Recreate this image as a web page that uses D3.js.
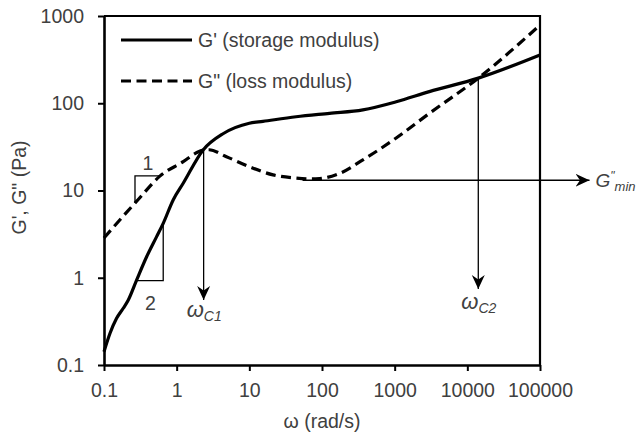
<!DOCTYPE html>
<html>
<head>
<meta charset="utf-8">
<script src="https://cdn.jsdelivr.net/npm/d3@7"></script>
<style>
  html, body { margin: 0; padding: 0; background: #fff; }
  svg { display: block; font-family: "Liberation Sans", Arial, sans-serif; }
</style>
</head>
<body>
<svg id="chart" width="640" height="436"></svg>
<script>
// Frequency sweep data (log-log)
const omegaStorage = [0.1, 0.121, 0.149, 0.184, 0.216, 0.281, 0.386, 0.53, 0.653, 0.895, 1.23, 2.3, 4.4, 10, 15.4, 44, 127, 365, 1050, 3000, 14150, 100000];
const storageModulus = [0.142, 0.231, 0.343, 0.447, 0.556, 0.94, 1.74, 2.96, 4.2, 7.8, 12.1, 29, 45, 59, 62, 70, 76.7, 84, 104, 136, 194, 357];

const omegaLoss = [0.1, 0.2, 0.3, 0.587, 1.23, 1.87, 2.3, 2.8, 4.84, 10.1, 21.2, 44, 70, 92.7, 175, 365, 1050, 3006, 14150, 100000];
const lossModulus = [2.86, 5.5, 8.0, 14.6, 21.4, 27.1, 29, 29.3, 24.4, 18.7, 15.1, 13.9, 13.6, 13.7, 15.7, 22.4, 40, 76.7, 194, 788];

const xTickValues = [0.1, 1, 10, 100, 1000, 10000, 100000];
const xTickLabels = ["0.1", "1", "10", "100", "1000", "10000", "100000"];
const yTickValues = [0.1, 1, 10, 100, 1000];
const yTickLabels = ["0.1", "1", "10", "100", "1000"];

const seriesNames = ["G' (storage modulus)", "G\" (loss modulus)"];

// Crossover frequencies and minimum of G''
const crossover1 = { omega: 2.35, g: 29, tipG: 0.556 };
const crossover2 = { omega: 14150, g: 194, tipG: 0.743 };
const lossMin = { omega: 54, g: 13.1, endOmega: 480000 };

// Slope guides: 1 (G'') and 2 (G')
const slopeOne = { omegaA: 0.267, omegaB: 0.587, gTop: 14.7, gBottom: 7.2 };
const slopeTwo = { omegaA: 0.281, omegaB: 0.653, gBottom: 0.925, gTop: 4.2 };

const W = 640, H = 436;
const margin = { top: 16, right: 100, bottom: 71, left: 104 };
const svg = d3.select("#chart");

const x = d3.scaleLog().domain([0.1, 100000]).range([margin.left, W - margin.right]);
const y = d3.scaleLog().domain([0.1, 1000]).range([H - margin.bottom, margin.top]);

const textColor = "#404040";
const fontSize = 19.5;

// Arrowhead
const defs = svg.append("defs");
defs.append("marker")
  .attr("id", "arrow")
  .attr("markerUnits", "userSpaceOnUse")
  .attr("viewBox", "-14 -7 15 14")
  .attr("refX", 0).attr("refY", 0)
  .attr("markerWidth", 15).attr("markerHeight", 14)
  .attr("orient", "auto")
  .append("path")
  .attr("d", "M0,0 L-14,-6.5 L-9.5,0 L-14,6.5 Z")
  .attr("fill", "#000");

// Frame (top and right)
svg.append("path")
  .attr("d", `M${x(0.1)},${y(1000)} H${x(100000)} V${y(0.1)}`)
  .attr("fill", "none").attr("stroke", "#000").attr("stroke-width", 2.2);

// Axes
const xAxis = d3.axisBottom(x)
  .tickValues(xTickValues)
  .tickFormat((d, i) => xTickLabels[i])
  .tickSizeInner(6).tickSizeOuter(0).tickPadding(12);
const yAxis = d3.axisLeft(y)
  .tickValues(yTickValues)
  .tickFormat((d, i) => yTickLabels[i])
  .tickSizeInner(6).tickSizeOuter(0).tickPadding(14);

const gx = svg.append("g").attr("transform", `translate(0,${H - margin.bottom})`).call(xAxis);
const gy = svg.append("g").attr("transform", `translate(${margin.left},0)`).call(yAxis);
[gx, gy].forEach(g => {
  g.select(".domain").attr("stroke", "#000").attr("stroke-width", 2.6);
  g.selectAll(".tick line").attr("stroke", "#000").attr("stroke-width", 2);
  g.selectAll(".tick text")
    .attr("fill", textColor)
    .style("font-family", '"Liberation Sans", Arial, sans-serif')
    .style("font-size", fontSize + "px");
});

// Axis titles
svg.append("text")
  .attr("x", (x(0.1) + x(100000)) / 2)
  .attr("y", 428)
  .attr("text-anchor", "middle")
  .attr("fill", textColor)
  .style("font-size", fontSize + "px")
  .text("ω (rad/s)");

svg.append("text")
  .attr("transform", `translate(26,${(y(0.1) + y(1000)) / 2 - 3}) rotate(-90)`)
  .attr("text-anchor", "middle")
  .attr("fill", textColor)
  .style("font-size", fontSize + "px")
  .text("G', G\" (Pa)");

// Curves
const line = d3.line()
  .x(d => x(d[0]))
  .y(d => y(d[1]))
  .curve(d3.curveMonotoneX);

const storagePts = omegaStorage.map((w, i) => [w, storageModulus[i]]);
const lossPts = omegaLoss.map((w, i) => [w, lossModulus[i]]);

const plot = svg.append("g");

// Slope guides
const thin = 1.3;
plot.append("path")
  .attr("d", `M${x(slopeOne.omegaA)},${y(slopeOne.gBottom)} V${y(slopeOne.gTop)} H${x(slopeOne.omegaB)}`)
  .attr("fill", "none").attr("stroke", "#000").attr("stroke-width", thin);
plot.append("path")
  .attr("d", `M${x(slopeTwo.omegaA)},${y(slopeTwo.gBottom)} H${x(slopeTwo.omegaB)} V${y(slopeTwo.gTop)}`)
  .attr("fill", "none").attr("stroke", "#000").attr("stroke-width", thin);

svg.append("text")
  .attr("x", (x(slopeOne.omegaA) + x(slopeOne.omegaB)) / 2 + 0.5)
  .attr("y", y(slopeOne.gTop) - 6)
  .attr("text-anchor", "middle").attr("fill", textColor)
  .style("font-size", fontSize + "px").text("1");
svg.append("text")
  .attr("x", (x(slopeTwo.omegaA) + x(slopeTwo.omegaB)) / 2 + 0.5)
  .attr("y", y(slopeTwo.gBottom) + 29)
  .attr("text-anchor", "middle").attr("fill", textColor)
  .style("font-size", fontSize + "px").text("2");

// Crossover arrows
[crossover1, crossover2].forEach(c => {
  plot.append("line")
    .attr("x1", x(c.omega)).attr("x2", x(c.omega))
    .attr("y1", y(c.g)).attr("y2", y(c.tipG))
    .attr("stroke", "#000").attr("stroke-width", thin)
    .attr("marker-end", "url(#arrow)");
});

// G''min arrow
plot.append("line")
  .attr("x1", x(lossMin.omega)).attr("x2", x(lossMin.endOmega))
  .attr("y1", y(lossMin.g)).attr("y2", y(lossMin.g))
  .attr("stroke", "#000").attr("stroke-width", thin)
  .attr("marker-end", "url(#arrow)");

plot.append("path")
  .datum(lossPts)
  .attr("d", line)
  .attr("fill", "none").attr("stroke", "#000").attr("stroke-width", 3.2)
  .attr("stroke-dasharray", "10,5.5");

plot.append("path")
  .datum(storagePts)
  .attr("d", line)
  .attr("fill", "none").attr("stroke", "#000").attr("stroke-width", 3.2);

// Annotation labels
function omegaLabel(c, label, dy) {
  const t = svg.append("text")
    .attr("x", x(c.omega) - 17)
    .attr("y", y(c.tipG) + dy)
    .attr("fill", textColor)
    .style("font-style", "italic");
  t.append("tspan").style("font-size", "22px").text("ω");
  t.append("tspan").style("font-size", "14px").attr("dy", 4).text(label);
}
omegaLabel(crossover1, "C1", 17);
omegaLabel(crossover2, "C2", 20);

const gmin = svg.append("text")
  .attr("x", x(lossMin.endOmega) + 6)
  .attr("y", y(lossMin.g) + 7)
  .attr("fill", textColor)
  .style("font-style", "italic");
gmin.append("tspan").style("font-size", "19px").text("G");
gmin.append("tspan").style("font-size", "12px").attr("dy", -7).text("\"");
gmin.append("tspan").style("font-size", "13px").attr("dy", 11).text("min");

// Legend
const legendX0 = 121, legendX1 = 192;
const legendRows = [
  { yv: 40, dash: null, name: seriesNames[0] },
  { yv: 81, dash: "10,5.5", name: seriesNames[1] }
];
legendRows.forEach(r => {
  svg.append("line")
    .attr("x1", legendX0).attr("x2", legendX1)
    .attr("y1", r.yv).attr("y2", r.yv)
    .attr("stroke", "#000").attr("stroke-width", 3.2)
    .attr("stroke-dasharray", r.dash);
  svg.append("text")
    .attr("x", legendX1 + 6)
    .attr("y", r.yv + 7)
    .attr("fill", textColor)
    .style("font-size", fontSize + "px")
    .text(r.name);
});
</script>
</body>
</html>
